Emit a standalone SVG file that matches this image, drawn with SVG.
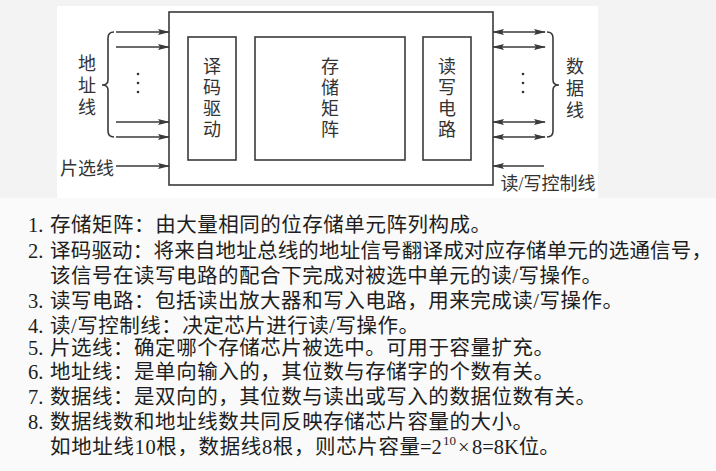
<svg xmlns="http://www.w3.org/2000/svg" width="716" height="471" viewBox="0 0 716 471">
<defs>
<style>
.bg{fill:#f3f3f3}
.panel{fill:#ffffff}
.box{fill:#ffffff;stroke:#3a3a3a;stroke-width:1.6}
.ln{fill:none;stroke:#3a3a3a;stroke-width:1.6}
.lbl{font-family:"Liberation Serif","Noto Sans CJK SC",serif;font-size:18px;fill:#333;text-anchor:middle}
.body{font-family:"Liberation Serif","Noto Sans CJK SC",serif;font-size:20.5px;fill:#1e1e1e;text-spacing-trim:space-all}
.dot{fill:#333}
</style>
<marker id="ah" markerUnits="userSpaceOnUse" markerWidth="12" markerHeight="8" refX="11" refY="3" orient="auto-start-reverse" viewBox="0 0 12 6">
<path d="M0,0 L12,3 L0,6 L2,3 z" fill="#3a3a3a"/>
</marker>
</defs>
<rect class="bg" x="0" y="0" width="716" height="471"/>
<rect class="panel" x="57" y="6" width="541" height="192"/>
<rect x="0" y="198" width="716" height="273" fill="#fafafa"/>

<g id="chip">
<rect class="box" x="169" y="12" width="324" height="173"/>
</g>
<g id="decoder">
<rect class="box" x="188" y="37" width="48" height="123"/>
<text class="lbl" x="212" y="73">译</text>
<text class="lbl" x="212" y="94">码</text>
<text class="lbl" x="212" y="115">驱</text>
<text class="lbl" x="212" y="136">动</text>
</g>
<g id="matrix">
<rect class="box" x="255" y="37" width="150" height="123"/>
<text class="lbl" x="330" y="73">存</text>
<text class="lbl" x="330" y="94">储</text>
<text class="lbl" x="330" y="115">矩</text>
<text class="lbl" x="330" y="136">阵</text>
</g>
<g id="rwcircuit">
<rect class="box" x="423" y="37" width="48" height="123"/>
<text class="lbl" x="447" y="73">读</text>
<text class="lbl" x="447" y="94">写</text>
<text class="lbl" x="447" y="115">电</text>
<text class="lbl" x="447" y="136">路</text>
</g>
<g id="address-label">
<text class="lbl" x="87" y="70">地</text>
<text class="lbl" x="87" y="92">址</text>
<text class="lbl" x="87" y="114">线</text>
</g>
<g id="data-label">
<text class="lbl" x="575" y="73">数</text>
<text class="lbl" x="575" y="95">据</text>
<text class="lbl" x="575" y="117">线</text>
</g>
<g id="cs-label">
<text class="lbl" x="87" y="175">片选线</text>
</g>
<g id="rw-label">
<text class="lbl" x="548" y="190">读/写控制线</text>
</g>

<g id="connectors">
<line class="ln" x1="116" y1="32" x2="169" y2="32" marker-end="url(#ah)"/>
<line class="ln" x1="116" y1="47" x2="169" y2="47" marker-end="url(#ah)"/>
<line class="ln" x1="116" y1="122" x2="169" y2="122" marker-end="url(#ah)"/>
<line class="ln" x1="116" y1="137" x2="169" y2="137" marker-end="url(#ah)"/>
<line class="ln" x1="116" y1="166" x2="169" y2="166" marker-end="url(#ah)"/>
<line class="ln" x1="493" y1="32" x2="545" y2="32" marker-start="url(#ah)" marker-end="url(#ah)"/>
<line class="ln" x1="493" y1="47" x2="545" y2="47" marker-start="url(#ah)" marker-end="url(#ah)"/>
<line class="ln" x1="493" y1="122" x2="545" y2="122" marker-start="url(#ah)" marker-end="url(#ah)"/>
<line class="ln" x1="493" y1="137" x2="545" y2="137" marker-start="url(#ah)" marker-end="url(#ah)"/>
<line class="ln" x1="544" y1="166" x2="493" y2="166" marker-end="url(#ah)"/>
<path class="ln" d="M114,32 Q108,32 108,38 L108,80 Q108,85 102,85 Q108,85 108,90 L108,131 Q108,137 114,137"/>
<path class="ln" d="M547,32 Q553,32 553,38 L553,80 Q553,85 559,85 Q553,85 553,90 L553,131 Q553,137 547,137"/>
<circle class="dot" cx="138" cy="74" r="1.3"/>
<circle class="dot" cx="138" cy="83" r="1.3"/>
<circle class="dot" cx="138" cy="92" r="1.3"/>
<circle class="dot" cx="523" cy="74" r="1.3"/>
<circle class="dot" cx="523" cy="83" r="1.3"/>
<circle class="dot" cx="523" cy="92" r="1.3"/>
</g>

<g id="notes">
<text class="body" x="28" y="232">1.</text>
<text class="body" x="50" y="232" textLength="441" lengthAdjust="spacing">存储矩阵：由大量相同的位存储单元阵列构成。</text>
<text class="body" x="28" y="258">2.</text>
<text class="body" x="50" y="258" textLength="662" lengthAdjust="spacing">译码驱动：将来自地址总线的地址信号翻译成对应存储单元的选通信号，</text>
<text class="body" x="50" y="283" textLength="552" lengthAdjust="spacing">该信号在读写电路的配合下完成对被选中单元的读/写操作。</text>
<text class="body" x="28" y="308">3.</text>
<text class="body" x="50" y="308" textLength="573" lengthAdjust="spacing">读写电路：包括读出放大器和写入电路，用来完成读/写操作。</text>
<text class="body" x="28" y="333">4.</text>
<text class="body" x="50" y="333" textLength="369" lengthAdjust="spacing">读/写控制线：决定芯片进行读/写操作。</text>
<text class="body" x="28" y="355">5.</text>
<text class="body" x="50" y="355" textLength="504" lengthAdjust="spacing">片选线：确定哪个存储芯片被选中。可用于容量扩充。</text>
<text class="body" x="28" y="379">6.</text>
<text class="body" x="50" y="379" textLength="504" lengthAdjust="spacing">地址线：是单向输入的，其位数与存储字的个数有关。</text>
<text class="body" x="28" y="404">7.</text>
<text class="body" x="50" y="404" textLength="546" lengthAdjust="spacing">数据线：是双向的，其位数与读出或写入的数据位数有关。</text>
<text class="body" x="28" y="429">8.</text>
<text class="body" x="50" y="429" textLength="483" lengthAdjust="spacing">数据线数和地址线数共同反映存储芯片容量的大小。</text>
<text class="body" x="50" y="454" textLength="370" lengthAdjust="spacing">如地址线10根，数据线8根，则芯片容量</text>
<text class="body" x="420" y="454">=2<tspan x="443" y="445" font-size="13">10</tspan><tspan x="458" y="454">×</tspan><tspan x="472" y="454">8=8K位。</tspan></text>
</g>
</svg>
